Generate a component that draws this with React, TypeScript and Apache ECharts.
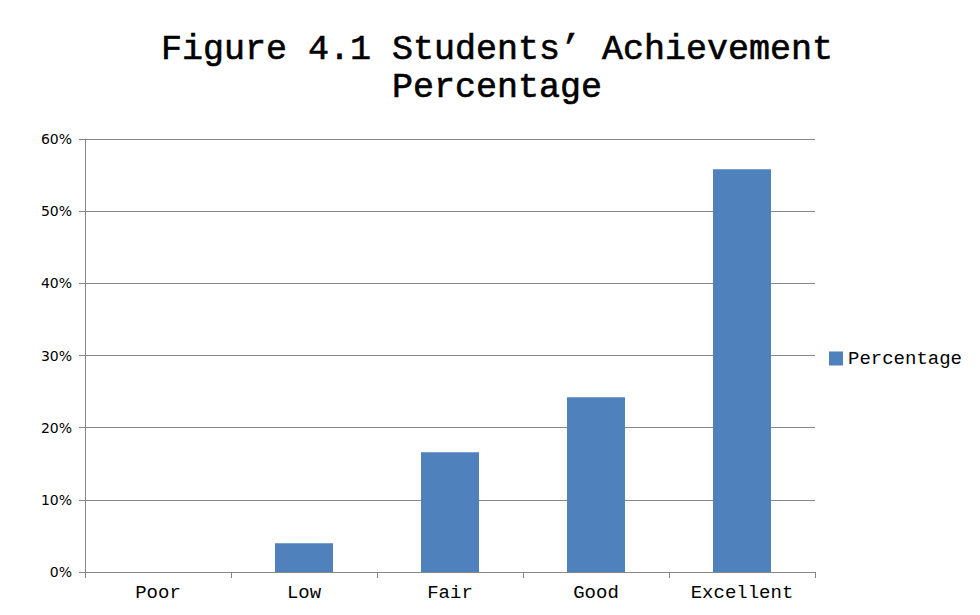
import React, { useEffect, useRef } from "react";
import * as echarts from "echarts";

const titleLines = ["Figure 4.1 Students’ Achievement", "Percentage"];
const categories = ["Poor", "Low", "Fair", "Good", "Excellent"];
const seriesName = "Percentage";
const values = [0, 4.0, 16.6, 24.2, 55.8];
const yTicks = { min: 0, max: 60, interval: 10 };

export default function App() {
  const ref = useRef<HTMLDivElement>(null);
  useEffect(() => {
    if (!ref.current) return;
    const chart = echarts.init(ref.current, undefined, { renderer: "svg" });
    chart.setOption({
      animation: false,
      backgroundColor: "#ffffff",
      title: {
        text: titleLines.join("\n"),
        left: 497,
        top: 31,
        textAlign: "center",
        padding: 0,
        textStyle: {
          fontFamily: "Liberation Mono",
          fontWeight: "normal",
          fontSize: 35,
          lineHeight: 38,
          color: "#000000",
          textBorderColor: "#000000",
          textBorderWidth: 0.6,
        },
      },
      legend: {
        data: [seriesName],
        left: 829,
        top: 349,
        padding: 0,
        icon: "rect",
        itemWidth: 14,
        itemHeight: 14,
        textStyle: { fontFamily: "Liberation Mono", fontSize: 19, color: "#000000" },
      },
      grid: { left: 85, right: 165, top: 139, bottom: 43, containLabel: false },
      xAxis: {
        type: "category",
        data: categories,
        axisLine: { show: true, lineStyle: { color: "#868686", width: 1 } },
        axisTick: { show: true, length: 6, lineStyle: { color: "#868686" } },
        axisLabel: {
          margin: 11,
          fontFamily: "Liberation Mono",
          fontSize: 19,
          color: "#000000",
        },
      },
      yAxis: {
        type: "value",
        min: yTicks.min,
        max: yTicks.max,
        interval: yTicks.interval,
        axisLine: { show: true, lineStyle: { color: "#868686", width: 1 } },
        axisTick: { show: true, length: 6, lineStyle: { color: "#868686" } },
        splitLine: { show: true, lineStyle: { color: "#868686", width: 1 } },
        axisLabel: {
          margin: 13,
          formatter: "{value}%",
          fontFamily: "DejaVu Sans",
          fontSize: 14,
          color: "#000000",
        },
      },
      series: [
        {
          name: seriesName,
          type: "bar",
          data: values,
          barWidth: 58,
          itemStyle: { color: "#4F81BD" },
        },
      ],
    });
    return () => chart.dispose();
  }, []);
  return <div ref={ref} style={{ width: 980, height: 615, margin: -8 }} />;
}
